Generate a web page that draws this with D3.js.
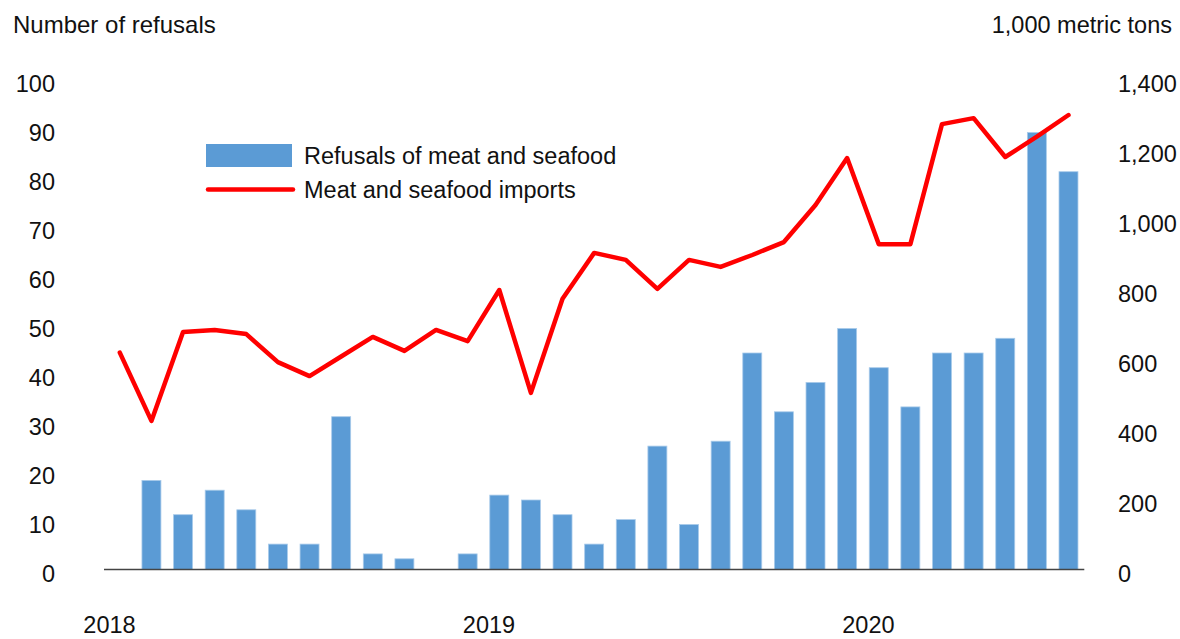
<!DOCTYPE html>
<html>
<head>
<meta charset="utf-8">
<script src="https://cdn.jsdelivr.net/npm/d3@7/dist/d3.min.js"></script>
<style>
  html, body { margin: 0; padding: 0; background: #fff; }
  svg { display: block; }
  text { font-family: "Liberation Sans", Arial, Helvetica, sans-serif; fill: #111; }
</style>
</head>
<body>
<svg id="chart" width="1180" height="639"></svg>
<script>
// Monthly categories, January 2018 to July 2020
const months = [
  "Jan 2018","Feb 2018","Mar 2018","Apr 2018","May 2018","Jun 2018",
  "Jul 2018","Aug 2018","Sep 2018","Oct 2018","Nov 2018","Dec 2018",
  "Jan 2019","Feb 2019","Mar 2019","Apr 2019","May 2019","Jun 2019",
  "Jul 2019","Aug 2019","Sep 2019","Oct 2019","Nov 2019","Dec 2019",
  "Jan 2020","Feb 2020","Mar 2020","Apr 2020","May 2020","Jun 2020",
  "Jul 2020"
];

// Refusals of meat and seafood (count, left axis)
const refusals = [
  0, 19, 12, 17, 13, 6, 6, 32, 4, 3, 0, 4,
  16, 15, 12, 6, 11, 26, 10, 27, 45, 33, 39, 50,
  42, 34, 45, 45, 48, 90, 82
];

// Meat and seafood imports (1,000 metric tons, right axis)
const imports = [
  631, 436, 690, 696, 684, 604, 564, 620, 676, 636, 696, 664,
  810, 516, 785, 916, 896, 813, 896, 876, 910, 947, 1053, 1187,
  941, 941, 1284, 1301, 1190, 1248, 1310
];

// Axis ticks and year labels
const leftTicks = [0, 10, 20, 30, 40, 50, 60, 70, 80, 90, 100];
const rightTicks = [0, 200, 400, 600, 800, 1000, 1200, 1400];
const yearLabels = [
  { month: "Jan 2018", label: "2018" },
  { month: "Jan 2019", label: "2019" },
  { month: "Jan 2020", label: "2020" }
];

const leftTitle = "Number of refusals";
const rightTitle = "1,000 metric tons";
const barName = "Refusals of meat and seafood";
const lineName = "Meat and seafood imports";

const svg = d3.select("#chart");
const FONT = "23.5px";
const barColor = "#5B9BD5";
const barEdge = "#A9CBEA";
const lineColor = "#FF0000";

const x = d3.scaleBand()
  .domain(months)
  .range([104, 1084.3])
  .paddingInner(0.4)
  .paddingOuter(0.2);

const yLeft = d3.scaleLinear().domain([0, 100]).range([573.5, 83.5]);
const yRight = d3.scaleLinear().domain([0, 1400]).range([573.5, 83.5]);

// Floor of the plot area, where the category axis line sits
const floorY = yLeft(0) - 4;

// Bars
svg.append("g")
  .selectAll("rect")
  .data(months.map((m, i) => ({ m, v: refusals[i] })).filter(d => d.v > 0))
  .join("rect")
  .attr("x", d => x(d.m))
  .attr("y", d => yLeft(d.v))
  .attr("width", x.bandwidth())
  .attr("height", d => floorY - yLeft(d.v))
  .attr("fill", barColor)
  .attr("stroke", barEdge)
  .attr("stroke-width", 0.8);

// Category axis line
svg.append("line")
  .attr("x1", x.range()[0]).attr("x2", x.range()[1])
  .attr("y1", floorY).attr("y2", floorY)
  .attr("stroke", "#444")
  .attr("stroke-width", 1.5);

// Imports line
const line = d3.line()
  .x((d, i) => x(months[i]) + x.bandwidth() / 2)
  .y(d => yRight(d));

svg.append("path")
  .datum(imports)
  .attr("d", line)
  .attr("fill", "none")
  .attr("stroke", lineColor)
  .attr("stroke-width", 4.5)
  .attr("stroke-linejoin", "round")
  .attr("stroke-linecap", "round");

// Left axis labels
svg.append("g")
  .selectAll("text")
  .data(leftTicks)
  .join("text")
  .attr("x", 55)
  .attr("y", d => yLeft(d))
  .attr("dy", "0.35em")
  .attr("text-anchor", "end")
  .style("font-size", FONT)
  .text(d => d3.format(",")(d));

// Right axis labels
svg.append("g")
  .selectAll("text")
  .data(rightTicks)
  .join("text")
  .attr("x", 1118)
  .attr("y", d => yRight(d))
  .attr("dy", "0.35em")
  .attr("text-anchor", "start")
  .style("font-size", FONT)
  .text(d => d3.format(",")(d));

// Year labels under the first month of each year
svg.append("g")
  .selectAll("text")
  .data(yearLabels)
  .join("text")
  .attr("x", d => x(d.month) + x.bandwidth() / 2 - x.step() / 2 + 5.5)
  .attr("y", 633)
  .attr("text-anchor", "middle")
  .style("font-size", FONT)
  .text(d => d.label);

// Axis titles
svg.append("text")
  .attr("x", 13).attr("y", 33)
  .style("font-size", "24px")
  .text(leftTitle);

svg.append("text")
  .attr("x", 1172).attr("y", 33)
  .attr("text-anchor", "end")
  .style("font-size", FONT)
  .text(rightTitle);

// Legend
const legend = svg.append("g");
legend.append("rect")
  .attr("x", 206).attr("y", 144)
  .attr("width", 86).attr("height", 23)
  .attr("fill", barColor);
legend.append("text")
  .attr("x", 304).attr("y", 155.5)
  .attr("dy", "0.35em")
  .style("font-size", FONT)
  .text(barName);
legend.append("line")
  .attr("x1", 208).attr("x2", 293)
  .attr("y1", 189.5).attr("y2", 189.5)
  .attr("stroke", lineColor)
  .attr("stroke-width", 4.5)
  .attr("stroke-linecap", "round");
legend.append("text")
  .attr("x", 304).attr("y", 190)
  .attr("dy", "0.35em")
  .style("font-size", FONT)
  .text(lineName);
</script>
</body>
</html>
